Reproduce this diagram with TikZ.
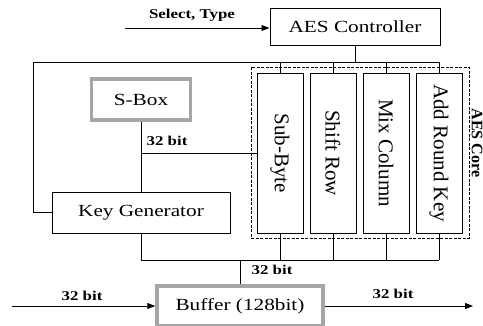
\documentclass[tikz,border=0pt]{standalone}
\usepackage{fontspec}
\usepackage{graphicx}
\setmainfont{Liberation Serif}
\usetikzlibrary{arrows.meta}
\newcommand{\wtext}[1]{\scalebox{1.25}[1]{#1}}
\begin{document}
\begin{tikzpicture}[
    x=1pt, y=-1pt,
    box/.style={draw, line width=1pt, inner sep=0pt, font=\fontsize{17}{20}\selectfont},
    stage/.style={box, minimum width=46pt, minimum height=160pt, font=\fontsize{21}{24}\selectfont},
    shadebox/.style={box, draw=gray!70, line width=3.5pt, fill=white},
    lbl/.style={font=\fontsize{13.5}{16}\selectfont\bfseries, inner sep=1pt},
    arr/.style={-{Triangle[length=8pt,width=6pt]}},
    line width=.9pt]
    \useasboundingbox (0,0) rectangle (483,325);
    \node[box, minimum width=170pt, minimum height=37pt] (ctrl) at (355,26.5) {\wtext{AES Controller}};
    \node[stage] (sub) at (280,153) {\rotatebox{-90}{Sub-Byte}};
    \node[stage] (shift) at (333,153) {\rotatebox{-90}{Shift Row}};
    \node[stage] (mix) at (386,153) {\rotatebox{-90}{Mix Column}};
    \node[stage] (add) at (439,153) {\rotatebox{-90}{Add Round Key}};
    \node[shadebox, minimum width=99pt, minimum height=41pt] (sbox) at (141,99.5) {\wtext{S-Box}};
    \node[box, minimum width=178pt, minimum height=41pt] (keygen) at (141,212.5) {\wtext{Key Generator}};
    \node[shadebox, minimum width=166pt, minimum height=40pt] (buf) at (240,306) {\wtext{Buffer (128bit)}};
    \draw[dash pattern=on 3pt off 1.5pt, line width=.6pt] (251,67) rectangle (469,238);
    \node[lbl, font=\fontsize{16}{18}\selectfont\bfseries] (core) at (477,143) {\rotatebox{-90}{AES Core}};
    \node[lbl] (lsel) at (192,15) {\wtext{Select, Type}};
    \node[lbl] (lsb) at (167,141) {\wtext{32 bit}};
    \node[lbl] (lmid) at (272,270) {\wtext{32 bit}};
    \node[lbl] (lin) at (82,296) {\wtext{32 bit}};
    \node[lbl] (lout) at (393,294) {\wtext{32 bit}};
    \coordinate (sel) at (125,28);
    \coordinate (top) at (33,62);
    \coordinate (bot) at (240,260);
    \coordinate (in) at (12,306);
    \coordinate (out) at (473,306);
    \draw[arr] (sel) -- (sel -| ctrl.west);
    \draw (ctrl.south) -- (ctrl.south |- top);
    \draw (top) -- (add.north |- top);
    \draw (top) -- (top |- keygen.west) -- (keygen.west);
    \foreach \b in {sub,shift,mix,add} {
        \draw (\b.north) -- (\b.north |- top);
        \draw (\b.south) -- (\b.south |- bot);
    }
    \draw (sbox.south) -- (keygen.north);
    \draw (sbox.south |- sub.west) -- (sub.west);
    \draw (keygen.south) -- (keygen.south |- bot) -- (add.south |- bot);
    \draw (bot) -- (buf.north);
    \draw[arr] (in) -- (buf.west);
    \draw[arr] (buf.east) -- (out);
\end{tikzpicture}
\end{document}
